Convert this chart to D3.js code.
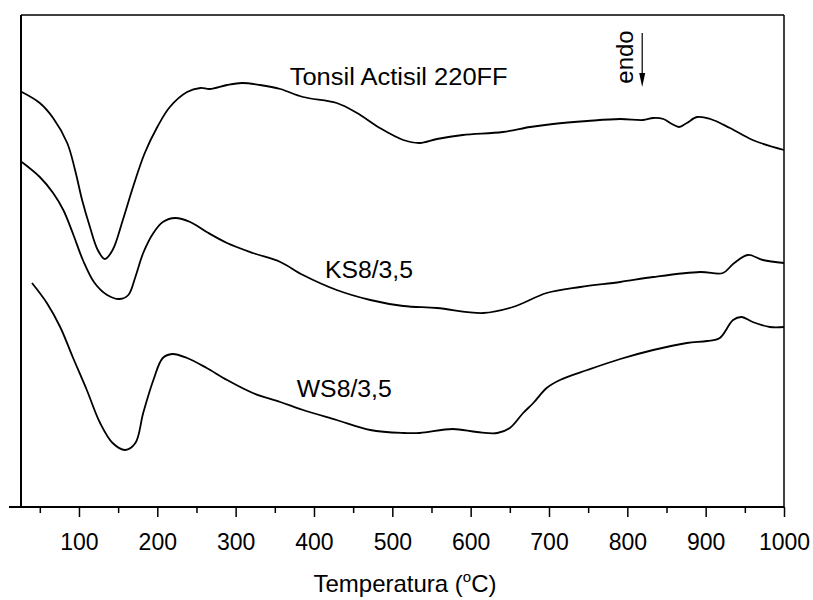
<!DOCTYPE html>
<html><head><meta charset="utf-8">
<script src="https://cdn.jsdelivr.net/npm/d3@7"></script>
<style>body{margin:0;background:#fff}svg{display:block}</style>
</head><body>
<svg id="c" width="813" height="600"></svg>
<script>
// Temperature (°C) and DTA signal (arbitrary units)
const tonsilT = [27,50,67,85,95,104,114,124,133,143,156,169,184,200,216,238,255,267,289,308,331,357,386,429,455,484,514,535,557,590,641,676,705,749,791,820,833,846,857,866,876,889,906,931,960,1000];
const tonsilV = [415,404,389,364,337,307,280,257,248,257,287,320,354,380,400,415,419,418,422,424,422,418,410,404,394,379,367,364,368,372,375,380,383,386,388,387,389,388,383,380,384,390,388,379,367,357];
const ksT = [27,50,67,80,92,105,120,136,152,163,172,182,195,207,223,242,263,289,322,357,386,429,472,514,557,616,654,697,740,791,833,893,922,935,954,973,1000];
const ksV = [345,330,314,297,274,247,224,212,208,212,230,254,274,285,289,285,275,264,254,245,232,217,207,201,199,194,200,214,220,225,230,235,234,243,252,247,244];
const wsT = [40,59,76,92,110,127,143,159,172,182,195,207,219,238,263,289,322,357,386,429,472,514,535,577,608,634,650,667,680,697,714,749,791,833,876,902,918,935,946,960,982,1000];
const wsV = [224,204,180,150,117,84,64,57,64,94,127,149,153,149,139,127,114,105,97,87,77,74,74,78,75,74,79,94,104,119,127,137,148,157,164,166,169,187,190,185,180,180];
const majorTicks = [100,200,300,400,500,600,700,800,900,1000];
const minorTicks = [50,150,250,350,450,550,650,750,850,950];
const curveLabels = [
  {text:"Tonsil Actisil 220FF", t:369, v:422, w:218},
  {text:"KS8/3,5", t:414, v:229, w:88},
  {text:"WS8/3,5", t:378, v:110, w:95}
];
const xTitle = "Temperatura (";
const endoLabel = {text:"endo", t:807, v:450, arrowT:819, arrowFrom:474, arrowTo:420};

const svg = d3.select("#c");
const X0=21, X1=784, Y0=15, Y1=507;
const x = d3.scaleLinear().domain([26,1000]).range([X0,X1]);
const y = d3.scaleLinear().domain([0,492]).range([Y1,Y0]);
const font = "'Liberation Sans', Arial, sans-serif";

// frame
const g = svg.append("g");
g.append("line").attr("x1",X0).attr("x2",X1).attr("y1",Y0).attr("y2",Y0).attr("stroke","#000").attr("stroke-width",1.5);
g.append("line").attr("x1",X0).attr("x2",X0).attr("y1",Y0).attr("y2",Y1).attr("stroke","#000").attr("stroke-width",2);
g.append("line").attr("x1",X1).attr("x2",X1).attr("y1",Y0).attr("y2",Y1).attr("stroke","#000").attr("stroke-width",1.5);
g.append("line").attr("x1",9).attr("x2",X1).attr("y1",Y1).attr("y2",Y1).attr("stroke","#000").attr("stroke-width",2);

// axes
const ax = svg.append("g").attr("transform",`translate(0,${Y1})`)
  .call(d3.axisBottom(x).tickValues(majorTicks).tickSize(10).tickPadding(17).tickFormat(d3.format("d")));
ax.select(".domain").remove();
ax.selectAll("line").attr("stroke-width",1.5);
ax.selectAll("text").attr("font-family",font).attr("font-size",23).attr("fill","#000");
const mx = svg.append("g").attr("transform",`translate(0,${Y1})`)
  .call(d3.axisBottom(x).tickValues(minorTicks).tickSize(6).tickFormat(""));
mx.select(".domain").remove();
mx.selectAll("line").attr("stroke-width",1.5);

// title
const tt = svg.append("text").attr("x",405).attr("y",592).attr("text-anchor","middle")
  .attr("font-family",font).attr("font-size",24).attr("fill","#000");
tt.append("tspan").text(xTitle);
tt.append("tspan").attr("font-size",15).attr("dy",-10).text("o");
tt.append("tspan").attr("dy",10).text("C)");

// curves
const line = d3.line().x(d=>x(d[0])).y(d=>y(d[1])).curve(d3.curveCatmullRom.alpha(0.5));
[[tonsilT,tonsilV],[ksT,ksV],[wsT,wsV]].forEach(([t,v])=>{
  svg.append("path").datum(t.map((d,i)=>[d,v[i]])).attr("d",line)
    .attr("fill","none").attr("stroke","#000").attr("stroke-width",1.8);
});

// labels
curveLabels.forEach(l=>{
  svg.append("text").attr("x",x(l.t)).attr("y",y(l.v)).text(l.text)
    .attr("font-family",font).attr("font-size",23).attr("fill","#000")
    .attr("textLength",l.w).attr("lengthAdjust","spacingAndGlyphs");
});

// endo
const ex = x(endoLabel.t), ey = y(endoLabel.v);
svg.append("text").attr("transform",`translate(${ex},${ey}) rotate(-90)`).attr("text-anchor","middle")
  .attr("font-family",font).attr("font-size",24).attr("fill","#000").text(endoLabel.text);
const axp = x(endoLabel.arrowT);
svg.append("line").attr("x1",axp).attr("x2",axp).attr("y1",y(endoLabel.arrowFrom)).attr("y2",y(endoLabel.arrowTo)-12)
  .attr("stroke","#000").attr("stroke-width",1.2);
svg.append("path").attr("d",`M${axp-3},${y(endoLabel.arrowTo)-14} L${axp+3},${y(endoLabel.arrowTo)-14} L${axp},${y(endoLabel.arrowTo)} Z`).attr("fill","#000");
</script>
</body></html>
